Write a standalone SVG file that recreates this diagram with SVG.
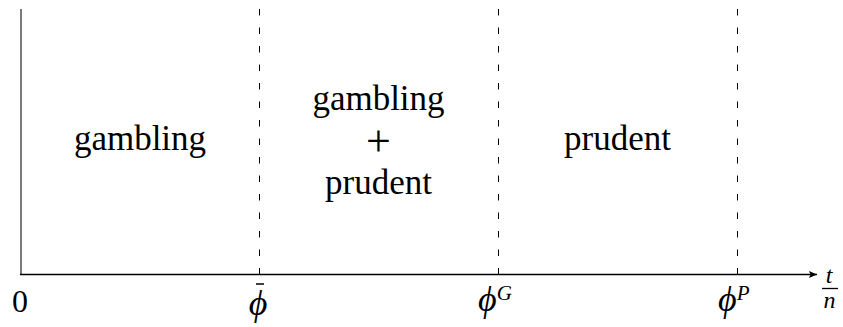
<svg xmlns="http://www.w3.org/2000/svg" width="843" height="327" viewBox="0 0 843 327">
<style>
.t{font-family:"Liberation Serif","DejaVu Serif",serif;fill:#000;}
.lbl{font-size:35px;text-anchor:middle;}
.ax{font-size:32px;}
.phi{font-size:36px;font-style:italic;}
.sup{font-size:21px;font-style:italic;}
.it{font-style:italic;}
.dash{stroke:#000;stroke-width:1;stroke-dasharray:6.5 12;fill:none;}
</style>
<defs>
<marker id="arr" markerWidth="10" markerHeight="8" refX="8" refY="4" orient="auto" markerUnits="userSpaceOnUse">
<path d="M0,0.5 L8,4 L0,7.5 L1.5,4 Z" fill="#000"/>
</marker>
</defs>
<g id="connectors">
<line x1="21" y1="9" x2="21" y2="274.5" stroke="#222" stroke-width="1.2"/>
<line x1="20" y1="274.5" x2="817" y2="274.5" stroke="#000" stroke-width="1.6" marker-end="url(#arr)"/>
<line class="dash" x1="259.5" y1="9" x2="259.5" y2="275"/>
<line class="dash" x1="498.5" y1="9" x2="498.5" y2="275"/>
<line class="dash" x1="737.5" y1="9" x2="737.5" y2="275"/>
</g>
<g id="region-gambling">
<text class="t lbl" x="140" y="150">gambling</text>
</g>
<g id="region-mixed">
<text class="t lbl" x="378.5" y="110">gambling</text>
<text class="t lbl" x="378.5" y="156" style="font-size:44px">+</text>
<text class="t lbl" x="378.5" y="194">prudent</text>
</g>
<g id="region-prudent">
<text class="t lbl" x="617.5" y="150">prudent</text>
</g>
<g id="labels">
<text class="t ax" x="20" y="312" text-anchor="middle">0</text>
<text class="t phi" x="258" y="315" text-anchor="middle">ϕ</text>
<line x1="256" y1="284" x2="264" y2="284" stroke="#000" stroke-width="1.5"/>
<text class="t phi" x="478" y="311">ϕ<tspan class="sup" dy="-11">G</tspan></text>
<text class="t phi" x="718" y="311">ϕ<tspan class="sup" dy="-11">P</tspan></text>
<text class="t it" x="829" y="283" font-size="24" text-anchor="middle">t</text>
<line x1="822" y1="288.5" x2="838" y2="288.5" stroke="#000" stroke-width="1.3"/>
<text class="t it" x="829.5" y="308" font-size="24" text-anchor="middle">n</text>
</g>
</svg>
